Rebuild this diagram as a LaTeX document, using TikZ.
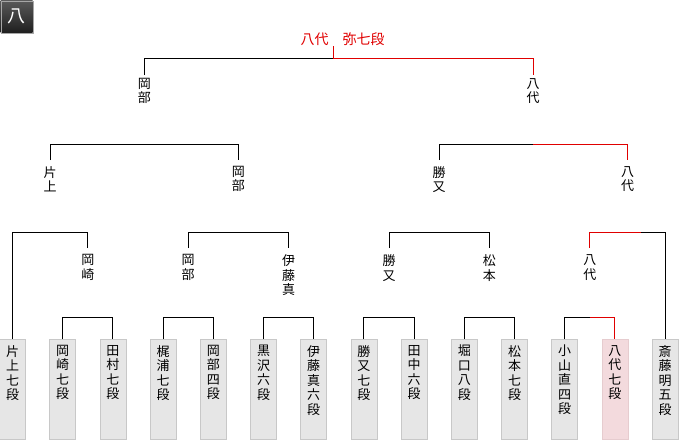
\documentclass[tikz,border=0pt]{standalone}
\usepackage{fontspec}
\newfontfamily\jp{Noto Sans CJK JP}
\definecolor{winred}{HTML}{E00000}
\definecolor{boxgray}{HTML}{E6E6E6}
\definecolor{boxedge}{HTML}{C8C8C8}
\definecolor{boxpink}{HTML}{F3DADD}
\definecolor{pinkedge}{HTML}{E6CCCF}
\tikzset{
    bk/.style={line width=1pt, black},
    win/.style={line width=1pt, winred},
    pname/.style={anchor=north, inner xsep=0pt, inner ysep=6pt, align=center,
        font=\jp\fontsize{13}{14.5}\selectfont},
    pbox/.style={draw=boxedge, fill=boxgray, line width=0.8pt, anchor=north,
        minimum width=26pt, minimum height=100pt, inner sep=0pt},
    pboxwin/.style={pbox, draw=pinkedge, fill=boxpink}
}
\begin{document}
\begin{tikzpicture}[x=1pt, y=-1pt]
    \useasboundingbox (0,0) rectangle (680,440);
    % title tab
    \node[draw=gray!70, top color=black!65, bottom color=black!88, minimum size=32pt,
        inner sep=0pt, anchor=north west, text=white, font=\jp\fontsize{18}{18}\selectfont]
        (tab) at (0.5,0.5) {八};
    % players
    \node[pbox] (p0) at (12.5,339) {};
    \node[pbox] (p1) at (62.7,339) {};
    \node[pbox] (p2) at (112.9,339) {};
    \node[pbox] (p3) at (163.1,339) {};
    \node[pbox] (p4) at (213.3,339) {};
    \node[pbox] (p5) at (263.5,339) {};
    \node[pbox] (p6) at (313.7,339) {};
    \node[pbox] (p7) at (363.9,339) {};
    \node[pbox] (p8) at (414.1,339) {};
    \node[pbox] (p9) at (464.3,339) {};
    \node[pbox] (p10) at (514.5,339) {};
    \node[pbox] (p11) at (564.7,339) {};
    \node[pboxwin] (p12) at (614.9,339) {};
    \node[pbox] (p13) at (665.1,339) {};
    \node[pname] (t0) at (p0.north) {片\\上\\七\\段};
    \node[pname] (t1) at (p1.north) {岡\\崎\\七\\段};
    \node[pname] (t2) at (p2.north) {田\\村\\七\\段};
    \node[pname] (t3) at (p3.north) {梶\\浦\\七\\段};
    \node[pname] (t4) at (p4.north) {岡\\部\\四\\段};
    \node[pname] (t5) at (p5.north) {黒\\沢\\六\\段};
    \node[pname] (t6) at (p6.north) {伊\\藤\\真\\六\\段};
    \node[pname] (t7) at (p7.north) {勝\\又\\七\\段};
    \node[pname] (t8) at (p8.north) {田\\中\\六\\段};
    \node[pname] (t9) at (p9.north) {堀\\口\\八\\段};
    \node[pname] (t10) at (p10.north) {松\\本\\七\\段};
    \node[pname] (t11) at (p11.north) {小\\山\\直\\四\\段};
    \node[pname] (t12) at (p12.north) {八\\代\\七\\段};
    \node[pname] (t13) at (p13.north) {斎\\藤\\明\\五\\段};
    % winners by round
    \node[pname, inner ysep=6.5pt] (q1) at (87.8,248) {岡\\崎};
    \node[pname, inner ysep=6.5pt] (q2) at (188.2,248) {岡\\部};
    \node[pname, inner ysep=6.5pt] (q3) at (288.6,248) {伊\\藤\\真};
    \node[pname, inner ysep=6.5pt] (q4) at (389,248) {勝\\又};
    \node[pname, inner ysep=6.5pt] (q5) at (489.4,248) {松\\本};
    \node[pname, inner ysep=6.5pt] (q6) at (589.8,248) {八\\代};
    \node[pname] (r2a) at (50.2,160) {片\\上};
    \node[pname] (r2b) at (238.4,160) {岡\\部};
    \node[pname] (r2c) at (439.2,160) {勝\\又};
    \node[pname] (r2d) at (627.5,160) {八\\代};
    \node[pname, inner ysep=3pt] (r1a) at (144.3,75) {岡\\部};
    \node[pname, inner ysep=3pt] (r1b) at (533,75) {八\\代};
    \node[font=\jp\fontsize{14}{14}\selectfont, text=winred, inner sep=0pt]
        (champ) at (342.5,39) {八代　弥七段};
    % first round
    \draw[bk] (p1.north) -- ++(0,-22) -| (p2.north);
    \draw[bk] (p3.north) -- ++(0,-22) -| (p4.north);
    \draw[bk] (p5.north) -- ++(0,-22) -| (p6.north);
    \draw[bk] (p7.north) -- ++(0,-22) -| (p8.north);
    \draw[bk] (p9.north) -- ++(0,-22) -| (p10.north);
    \draw[bk] (p11.north) -- ++(0,-22) coordinate (k4) -- (k4 -| q6.north) coordinate (s4);
    \draw[win] (s4) -| (p12.north);
    % second round
    \draw[bk] (q1.north) -- ++(0,-16) -| (p0.north);
    \draw[bk] (q2.north) -- ++(0,-16) -| (q3.north);
    \draw[bk] (q4.north) -- ++(0,-16) -| (q5.north);
    \draw[win] (q6.north) -- ++(0,-16) -- ++(51,0) coordinate (s3);
    \draw[bk] (s3) -| (p13.north);
    % semi finals
    \draw[bk] (r2a.north) -- ++(0,-16) -| (r2b.north);
    \draw[bk] (r2c.north) -- ++(0,-16) coordinate (k2) -- (k2 -| r1b.north) coordinate (s2);
    \draw[win] (s2) -| (r2d.north);
    % final
    \draw[bk] (r1a.north) -- ++(0,-17) coordinate (k1) -- (333,58) coordinate (s1);
    \draw[win] (s1) -| (r1b.north);
    \draw[win] (s1) -- (s1 |- champ.south);
\end{tikzpicture}
\end{document}
